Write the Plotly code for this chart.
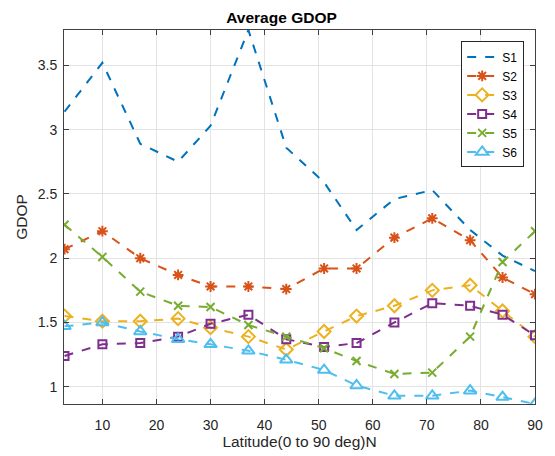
import plotly.graph_objects as go

latitude = [3, 10, 17, 24, 30, 37, 44, 51, 57, 64, 71, 78, 84, 90]
s1 = [3.14, 3.52, 2.89, 2.75, 3.03, 3.775, 2.86, 2.59, 2.22, 2.46, 2.53, 2.22, 2.02, 1.90]
s2 = [2.07, 2.21, 2.00, 1.87, 1.78, 1.78, 1.76, 1.92, 1.92, 2.16, 2.31, 2.14, 1.85, 1.72]
s3 = [1.55, 1.51, 1.51, 1.53, 1.46, 1.39, 1.29, 1.43, 1.55, 1.63, 1.75, 1.79, 1.59, 1.39]
s4 = [1.24, 1.33, 1.34, 1.39, 1.49, 1.56, 1.37, 1.31, 1.34, 1.50, 1.65, 1.63, 1.56, 1.40]
s5 = [2.26, 2.01, 1.74, 1.63, 1.62, 1.48, 1.39, 1.30, 1.20, 1.10, 1.11, 1.39, 1.97, 2.21]
s6 = [1.47, 1.50, 1.43, 1.37, 1.33, 1.28, 1.21, 1.13, 1.01, 0.93, 0.93, 0.97, 0.92, 0.866]
names = ["S1", "S2", "S3", "S4", "S5", "S6"]
x_ticks = [10, 20, 30, 40, 50, 60, 70, 80, 90]
y_ticks = [1, 1.5, 2, 2.5, 3, 3.5]

series = [s1, s2, s3, s4, s5, s6]
colors = ["#0072BD", "#D95319", "#EDB120", "#7E2F8E", "#77AC30", "#4DBEEE"]
symbols = [None, "asterisk-open", "diamond-open", "square-open", "x-thin-open", "triangle-up-open"]
sizes = [0, 9, 10, 8, 8, 11]

FONT = "Liberation Sans, Arial, Helvetica"

fig = go.Figure()
for name, ys, c, sym, sz in zip(names, series, colors, symbols, sizes):
    if sym is None:
        fig.add_trace(go.Scatter(x=latitude, y=ys, name=name, mode="lines",
                                 line=dict(color=c, width=2, dash="dash")))
    else:
        fig.add_trace(go.Scatter(x=latitude, y=ys, name=name, mode="lines+markers",
                                 line=dict(color=c, width=2, dash="dash"),
                                 marker=dict(symbol=sym, size=sz, color=c,
                                             line=dict(color=c, width=2))))

axis_common = dict(
    showline=True, linecolor="#404040", linewidth=1, mirror="ticks",
    ticks="inside", ticklen=5, tickcolor="#404040",
    showgrid=True, gridcolor="#e3e3e3", gridwidth=1, zeroline=False,
    tickfont=dict(family=FONT, size=14, color="#262626"),
)

# page body has an 8px default margin, so the figure is offset by 8px
fig.update_layout(
    width=547, height=448,
    margin=dict(l=56, r=12, t=21.5, b=49.3),
    paper_bgcolor="white", plot_bgcolor="white",
    title=dict(text="<b>Average GDOP</b>", x=0.5, xanchor="center", y=0.978, yanchor="middle",
               font=dict(family=FONT, size=15.5, color="#000000")),
    xaxis=dict(range=[2.9, 90], tickvals=x_ticks, ticklabelstandoff=8,
               title=dict(text="Latitude(0 to 90 deg)N", standoff=0,
                          font=dict(family=FONT, size=15.5, color="#262626")),
               **axis_common),
    yaxis=dict(range=[0.866, 3.775], tickvals=y_ticks, ticklabelstandoff=3,
               title=dict(text="GDOP", standoff=6,
                          font=dict(family=FONT, size=15.5, color="#262626")),
               **axis_common),
    legend=dict(x=0.977, y=0.9695, xanchor="right", yanchor="top",
                bgcolor="white", bordercolor="#262626", borderwidth=1,
                font=dict(family=FONT, size=12, color="#000000"),
                tracegroupgap=0, itemwidth=30),
    showlegend=True,
)

fig.write_html("out.html")
